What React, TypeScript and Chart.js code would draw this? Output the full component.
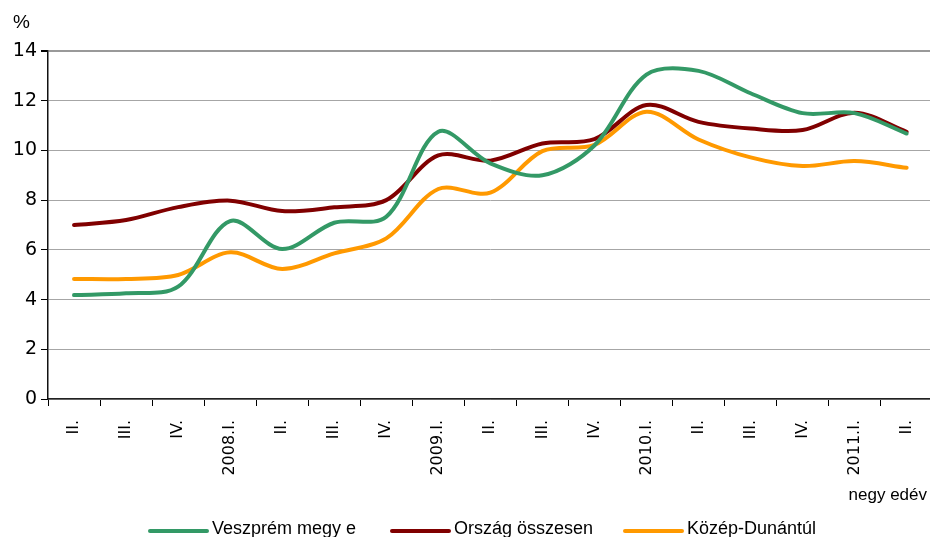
import React, { useEffect, useRef } from 'react';
import { Chart, registerables } from 'chart.js';

Chart.register(...registerables);

const categories = ['II.', 'III.', 'IV.', '2008.I.', 'II.', 'III.', 'IV.', '2009.I.', 'II.', 'III.', 'IV.', '2010.I.', 'II.', 'III.', 'IV.', '2011.I.', 'II.'];

const veszpremValues = [4.18, 4.25, 4.52, 7.16, 6.03, 7.09, 7.33, 10.75, 9.48, 9.0, 10.2, 13.05, 13.2, 12.3, 11.5, 11.5, 10.68];
const orszagValues = [7.0, 7.2, 7.72, 7.98, 7.56, 7.71, 8.0, 9.8, 9.59, 10.28, 10.45, 11.83, 11.15, 10.88, 10.82, 11.52, 10.75];
const kozepValues = [4.83, 4.83, 4.99, 5.9, 5.23, 5.86, 6.46, 8.45, 8.3, 9.97, 10.22, 11.56, 10.44, 9.72, 9.37, 9.57, 9.3];

const seriesNames = ['Veszprém megy e', 'Ország összesen', 'Közép-Dunántúl'];
const seriesColors = ['#339966', '#800000', '#FF9900'];

const yMin = 0;
const yMax = 14;
const yStep = 2;
const unitLabel = '%';
const xTitle = 'negy edév';

const FONT = '"Liberation Sans", Arial, sans-serif';
const WIDE_FONT = '"DejaVu Sans", "Liberation Sans", sans-serif';

const overlayPlugin = {
  id: 'overlay',
  afterDraw(chart: any) {
    const ctx = chart.ctx;
    ctx.save();
    ctx.fillStyle = '#000';
    ctx.font = `19px ${FONT}`;
    ctx.textAlign = 'left';
    ctx.textBaseline = 'middle';
    ctx.fillText(unitLabel, 13, 23);

    ctx.font = `17px ${FONT}`;
    ctx.textAlign = 'right';
    ctx.fillText(xTitle, 927, 495);

    // legend
    const starts = [150, 392, 625];
    const lineLen = 57;
    const legendY = 531;
    ctx.font = `18px ${FONT}`;
    ctx.textAlign = 'left';
    ctx.textBaseline = 'alphabetic';
    chart.data.datasets.forEach((ds: any, i: number) => {
      const x0 = starts[i];
      ctx.strokeStyle = ds.borderColor;
      ctx.lineWidth = 4;
      ctx.lineCap = 'round';
      ctx.beginPath();
      ctx.moveTo(x0, legendY);
      ctx.lineTo(x0 + lineLen, legendY);
      ctx.stroke();
      ctx.fillStyle = '#000';
      ctx.fillText(ds.label, x0 + lineLen + 5, 534);
    });
    ctx.restore();
  },
};

export default function App() {
  const canvasRef = useRef<HTMLCanvasElement | null>(null);

  useEffect(() => {
    if (!canvasRef.current) return;
    const values = [veszpremValues, orszagValues, kozepValues];
    const chart = new Chart(canvasRef.current, {
      type: 'line',
      data: {
        labels: categories,
        datasets: values.map((v, i) => ({
          label: seriesNames[i],
          data: v,
          borderColor: seriesColors[i],
          backgroundColor: seriesColors[i],
          borderWidth: 4,
          pointRadius: 0,
          pointHoverRadius: 0,
          tension: 0.33,
          fill: false,
          borderCapStyle: 'round',
          borderJoinStyle: 'round',
        })),
      },
      options: {
        responsive: false,
        animation: false,
        events: [],
        layout: { padding: { top: 51, left: 0, right: 5, bottom: 0 } },
        plugins: {
          legend: { display: false },
          tooltip: { enabled: false },
          title: { display: false },
        },
        scales: {
          x: {
            type: 'category',
            offset: true,
            afterFit: (scale: any) => {
              scale.height = 138;
            },
            grid: {
              display: true,
              drawOnChartArea: false,
              drawTicks: true,
              tickLength: 7,
              tickColor: '#000',
              offset: true,
            },
            border: { display: true, color: '#222', width: 1.5 },
            ticks: {
              autoSkip: false,
              maxRotation: 90,
              minRotation: 90,
              padding: 14,
              color: '#000',
              font: { family: WIDE_FONT, size: 16 },
            },
          },
          y: {
            min: yMin,
            max: yMax,
            afterFit: (scale: any) => {
              scale.width = 48;
            },
            grid: {
              color: (ctx: any) => (ctx.tick && ctx.tick.value === yMax ? '#999999' : '#a6a6a6'),
              lineWidth: (ctx: any) => (ctx.tick && ctx.tick.value === yMax ? 2 : 1),
              drawTicks: true,
              tickLength: 7,
              tickColor: '#000',
            },
            border: { display: true, color: '#111', width: 1.5 },
            ticks: {
              stepSize: yStep,
              padding: 4,
              color: '#000',
              font: { family: WIDE_FONT, size: 19 },
            },
          },
        },
      },
      plugins: [overlayPlugin],
    });
    return () => chart.destroy();
  }, []);

  return (
    <div style={{ position: 'fixed', left: 0, top: 0, width: 930, height: 537, overflow: 'hidden', background: '#fff' }}>
      <canvas ref={canvasRef} width={940} height={537} style={{ width: 940, height: 537, display: 'block' }} />
    </div>
  );
}
